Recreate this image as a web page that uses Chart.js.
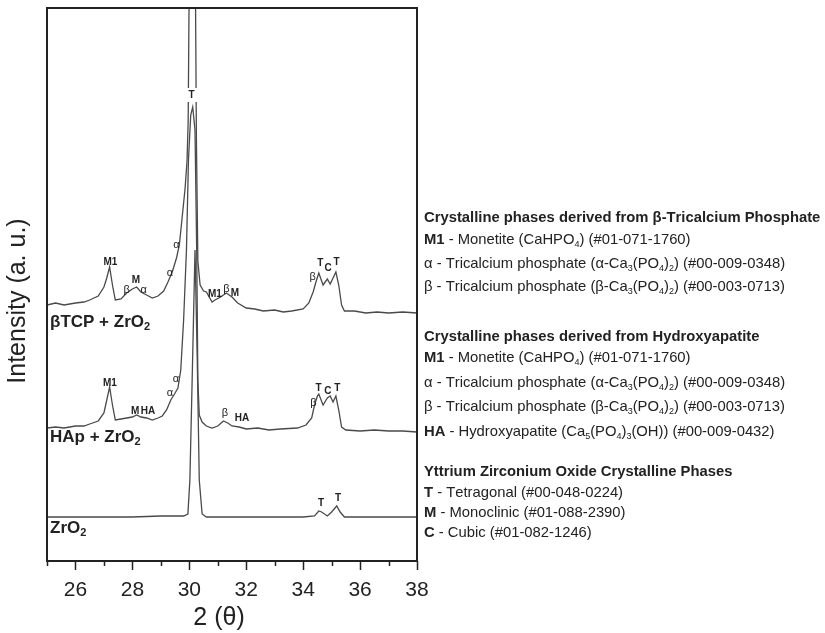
<!DOCTYPE html>
<html>
<head>
<meta charset="utf-8">
<script src="https://cdn.jsdelivr.net/npm/chart.js@4.4.1/dist/chart.umd.min.js"></script>
<style>
  html, body { margin: 0; padding: 0; background: #fff; }
</style>
</head>
<body>
<canvas id="xrd-chart" width="825" height="633"></canvas>
<script>
// 2θ ticks
const tickValues = [25, 26, 27, 28, 29, 30, 31, 32, 33, 34, 35, 36, 37, 38];

// βTCP + ZrO2 trace (offset intensity, a.u.)
const tcpTheta = [25.0, 25.3, 25.6, 26.0, 26.3, 26.5, 26.8, 27.0, 27.1, 27.2, 27.3, 27.4, 27.6, 27.8, 28.0, 28.15, 28.3, 28.5, 28.7, 28.9, 29.1, 29.25, 29.4, 29.55, 29.65, 29.75, 29.85, 29.92, 29.96, 29.99, 30.1, 30.22, 30.25, 30.3, 30.38, 30.5, 30.6, 30.8, 30.9, 31.1, 31.3, 31.5, 31.7, 32.0, 32.3, 32.6, 33.0, 33.3, 33.6, 34.0, 34.2, 34.35, 34.45, 34.55, 34.7, 34.85, 34.95, 35.1, 35.15, 35.25, 35.35, 35.45, 35.8, 36.2, 36.6, 37.0, 37.5, 38.0];
const tcpIntensity = [256, 258, 256, 258, 259, 261, 265, 274, 283, 294, 276, 261, 262, 268, 272, 274, 269, 266, 263, 265, 270, 279, 289, 303, 316, 344, 372, 400, 440, 553, 700, 553, 420, 300, 276, 270, 269, 259, 261, 264, 268, 264, 258, 253, 252, 250, 251, 249, 250, 252, 258, 269, 279, 288, 276, 282, 277, 286, 289, 276, 256, 250, 250, 248, 249, 248, 249, 248];

// HAp + ZrO2 trace
const hapTheta = [25.0, 25.3, 25.6, 26.0, 26.3, 26.5, 26.8, 27.0, 27.1, 27.2, 27.3, 27.4, 27.6, 27.8, 28.0, 28.15, 28.3, 28.5, 28.7, 28.9, 29.05, 29.2, 29.35, 29.5, 29.6, 29.7, 29.8, 29.9, 29.97, 30.05, 30.12, 30.2, 30.26, 30.3, 30.35, 30.45, 30.6, 30.8, 31.0, 31.2, 31.35, 31.5, 31.75, 32.0, 32.4, 32.8, 33.2, 33.8, 34.1, 34.3, 34.4, 34.5, 34.55, 34.7, 34.85, 34.95, 35.05, 35.15, 35.25, 35.35, 35.5, 36.0, 36.5, 37.0, 37.5, 38.0];
const hapIntensity = [133, 134, 133, 135, 135, 137, 140, 148, 161, 174, 156, 141, 142, 143, 144, 146, 144, 143, 141, 143, 145, 151, 161, 168, 173, 191, 241, 311, 401, 446, 454, 431, 311, 181, 146, 139, 135, 133, 135, 140, 138, 135, 134, 132, 133, 131, 132, 133, 136, 143, 156, 165, 167, 156, 163, 165, 159, 165, 151, 134, 131, 130, 131, 130, 130, 129];

// ZrO2 trace
const zrTheta = [25.0, 26.0, 27.0, 28.0, 29.0, 29.8, 29.95, 30.02, 30.1, 30.2, 30.28, 30.35, 30.45, 30.6, 31.0, 32.0, 33.0, 34.0, 34.4, 34.55, 34.65, 34.85, 35.0, 35.18, 35.3, 35.45, 36.0, 37.0, 38.0];
const zrIntensity = [44, 44, 44, 44, 45, 45, 47, 81, 181, 311, 201, 81, 47, 44, 44, 44, 44, 44, 45, 50, 49, 45, 49, 55, 49, 44, 44, 44, 44];

// peak markers: [label, 2θ, intensity]
const tcpPeaks = [['M1', 27.23, 299], ['β', 27.8, 271], ['M', 28.12, 281], ['α', 28.4, 271], ['α', 29.32, 288], ['α', 29.55, 316], ['T', 30.08, 466], ['M1', 30.9, 267], ['β', 31.3, 272], ['M', 31.6, 268], ['β', 34.33, 284], ['T', 34.6, 298], ['C', 34.88, 293], ['T', 35.17, 299]];
const hapPeaks = [['M1', 27.21, 178], ['M', 28.1, 150], ['HA', 28.55, 150], ['α', 29.32, 168], ['α', 29.53, 182], ['β', 31.25, 148], ['HA', 31.85, 143], ['β', 34.36, 158], ['T', 34.54, 173], ['C', 34.87, 170], ['T', 35.2, 173]];
const zrPeaks = [['T', 34.63, 58], ['T', 35.23, 63]];

// sample names: [name, intensity]
const sampleNames = [['βTCP + ZrO_2', 239], ['HAp + ZrO_2', 124], ['ZrO_2', 33]];

// phase key (** = bold, _x = subscript)
const keyLines = [
  ['**Crystalline phases derived from β-Tricalcium Phosphate**', 218],
  ['**M1** - Monetite (CaHPO_4) (#01-071-1760)', 240],
  ['α - Tricalcium phosphate (α-Ca_3(PO_4)_2) (#00-009-0348)', 264],
  ['β - Tricalcium phosphate (β-Ca_3(PO_4)_2) (#00-003-0713)', 287],
  ['**Crystalline phases derived from Hydroxyapatite**', 337],
  ['**M1** - Monetite (CaHPO_4) (#01-071-1760)', 358],
  ['α - Tricalcium phosphate (α-Ca_3(PO_4)_2) (#00-009-0348)', 383],
  ['β - Tricalcium phosphate (β-Ca_3(PO_4)_2) (#00-003-0713)', 407],
  ['**HA** - Hydroxyapatite (Ca_5(PO_4)_3(OH)) (#00-009-0432)', 432],
  ['**Yttrium Zirconium Oxide Crystalline Phases**', 472],
  ['**T** - Tetragonal (#00-048-0224)', 493],
  ['**M** - Monoclinic (#01-088-2390)', 513],
  ['**C** - Cubic (#01-082-1246)', 533]
];

const FONT = '"Liberation Sans", Arial, sans-serif';
const INK = '#222';

function toPoints(xs, ys) {
  return xs.map((x, i) => ({ x: x, y: ys[i] }));
}

// draw a string with ** bold ** and _x subscripts, left aligned
function drawRich(ctx, str, x, y, size, baseBold) {
  let bold = baseBold;
  let i = 0;
  while (i < str.length) {
    if (str.startsWith('**', i)) { bold = !bold; i += 2; continue; }
    let sub = false;
    let ch = str[i];
    if (ch === '_') { sub = true; ch = str[i + 1]; i += 2; } else { i += 1; }
    const s = sub ? Math.round(size * 0.62) : size;
    ctx.font = (bold ? 'bold ' : '') + s + 'px ' + FONT;
    ctx.fillText(ch, x, sub ? y + size * 0.3 : y);
    x += ctx.measureText(ch).width;
  }
}

const decorations = {
  id: 'decorations',
  afterDatasetsDraw(chart) {
    const ctx = chart.ctx;
    const xs = chart.scales.x, ys = chart.scales.y;
    const area = chart.chartArea;
    ctx.save();

    // peak labels
    ctx.fillStyle = INK;
    ctx.textAlign = 'center';
    ctx.textBaseline = 'middle';
    [tcpPeaks, hapPeaks, zrPeaks].forEach(list => {
      list.forEach(([name, t, v]) => {
        const px = xs.getPixelForValue(t), py = ys.getPixelForValue(v);
        const greek = name === 'α' || name === 'β';
        ctx.font = (greek ? '' : 'bold ') + (greek ? 11 : 10) + 'px ' + FONT;
        if (py < area.top + 150) {
          ctx.fillStyle = '#fff';
          ctx.fillRect(px - 6, py - 7, 12, 14);
          ctx.fillStyle = INK;
        }
        ctx.fillText(name, px, py);
      });
    });

    // sample names
    ctx.textAlign = 'left';
    ctx.textBaseline = 'middle';
    sampleNames.forEach(([name, v]) => {
      drawRich(ctx, name, area.left + 3, ys.getPixelForValue(v), 17, true);
    });

    // frame
    ctx.strokeStyle = INK;
    ctx.lineWidth = 2;
    ctx.strokeRect(area.left, area.top, area.right - area.left, area.bottom - area.top);

    // x ticks (outward, minor on odd values)
    ctx.lineWidth = 1.5;
    tickValues.forEach(t => {
      const px = Math.round(xs.getPixelForValue(t)) + 0.5;
      const len = t % 2 === 0 ? 9 : 5;
      ctx.beginPath();
      ctx.moveTo(px, area.bottom);
      ctx.lineTo(px, area.bottom + len);
      ctx.stroke();
    });

    // axis titles
    ctx.fillStyle = INK;
    ctx.textAlign = 'center';
    ctx.textBaseline = 'middle';
    ctx.font = '25px ' + FONT;
    ctx.fillText('2 (θ)', 219, 618);
    ctx.save();
    ctx.translate(18, 301);
    ctx.rotate(-Math.PI / 2);
    ctx.fillText('Intensity (a. u.)', 0, 0);
    ctx.restore();

    // phase key
    ctx.textAlign = 'left';
    ctx.textBaseline = 'middle';
    keyLines.forEach(([line, y]) => drawRich(ctx, line, 424, y, 14.8, false));

    ctx.restore();
  }
};

const traceStyle = { borderColor: '#4a4a4a', borderWidth: 1.3, pointRadius: 0, tension: 0, fill: false };

new Chart(document.getElementById('xrd-chart'), {
  type: 'line',
  data: {
    datasets: [
      Object.assign({ label: 'βTCP + ZrO2', data: toPoints(tcpTheta, tcpIntensity) }, traceStyle),
      Object.assign({ label: 'HAp + ZrO2', data: toPoints(hapTheta, hapIntensity) }, traceStyle),
      Object.assign({ label: 'ZrO2', data: toPoints(zrTheta, zrIntensity) }, traceStyle)
    ]
  },
  options: {
    responsive: false,
    animation: false,
    devicePixelRatio: 1,
    layout: { padding: { left: 47, right: 408, top: 8, bottom: 0 } },
    plugins: { legend: { display: false }, tooltip: { enabled: false } },
    scales: {
      x: {
        type: 'linear',
        min: 25,
        max: 38,
        afterBuildTicks: scale => { scale.ticks = tickValues.map(v => ({ value: v })); },
        afterFit: scale => { scale.height = 72; },
        grid: { display: false },
        border: { display: false },
        ticks: {
          autoSkip: false,
          maxRotation: 0,
          padding: 9,
          color: INK,
          font: { family: FONT, size: 21 },
          callback: v => (v % 2 === 0 ? String(v) : '')
        }
      },
      y: {
        display: false,
        min: 0,
        max: 553
      }
    }
  },
  plugins: [decorations]
});
</script>
</body>
</html>
